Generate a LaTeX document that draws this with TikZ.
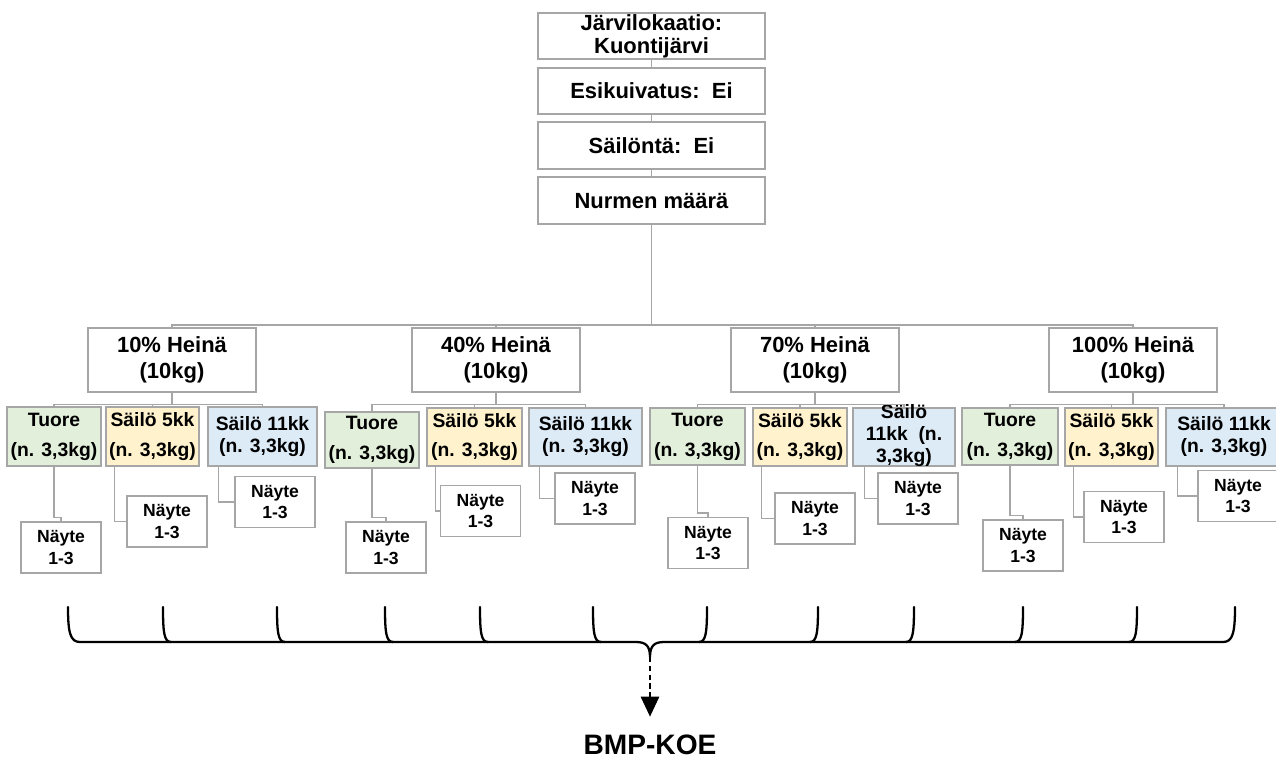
\documentclass[tikz,border=0pt]{standalone}
\usepackage{fontspec}
\setmainfont{Liberation Sans}
\usetikzlibrary{arrows.meta,calc}
\definecolor{tuorec}{HTML}{E2EFDA}
\definecolor{sailoa}{HTML}{FFF2CC}
\definecolor{sailob}{HTML}{DDEBF7}
\definecolor{viiva}{HTML}{A6A6A6}
\begin{document}
\begin{tikzpicture}[x=0.02cm, y=-0.02cm, >={Triangle[length=0.4cm,width=0.36cm]},
  laatikko/.style={draw=viiva, line width=0.6pt, inner sep=0pt, align=center},
  koko/.style 2 args={minimum width=#1*0.02cm, minimum height=#2*0.02cm},
  ylaosa/.style={laatikko, koko={227}{46}, font=\fontsize{12.5}{13}\selectfont\bfseries},
  heina/.style={laatikko, koko={168}{64}, font=\fontsize{12.5}{15}\selectfont\bfseries},
  tuore/.style={laatikko, fill=tuorec, font=\fontsize{11}{17}\selectfont\bfseries},
  sailo5/.style={laatikko, fill=sailoa, font=\fontsize{11}{17}\selectfont\bfseries},
  sailo11/.style={laatikko, fill=sailob, font=\fontsize{11}{12.5}\selectfont\bfseries},
  nayte/.style={laatikko, fill=white, koko={80}{51}, font=\fontsize{10}{12}\selectfont\bfseries},
  yhteys/.style={draw=viiva, line width=0.6pt},
  sulku/.style={line width=1.3pt, line cap=round}]
\useasboundingbox (0,0) rectangle (1276,762);
% ylaosan ketju
\node[ylaosa] (jarvi) at (651.5,36) {Järvilokaatio:\\Kuontijärvi};
\node[ylaosa] (esik) at (651.5,91) {Esikuivatus:\ \ Ei};
\node[ylaosa, koko={227}{47}] (sailonta) at (651.5,145.5) {Säilöntä:\ \ Ei};
\node[ylaosa, koko={227}{47}] (nurmi) at (651.5,200.5) {Nurmen määrä};
\draw[yhteys] (jarvi) -- (esik) (esik) -- (sailonta) (sailonta) -- (nurmi);
% heinan maarat
\foreach \nimi/\x/\pros in {h1/172/10, h2/496/40, h3/815/70, h4/1133/100}{
  \node[heina] (\nimi) at (\x,360) {\pros\% Heinä\\(10kg)};
  \draw[yhteys] (nurmi.south) -- (651.5,325) -| (\nimi.north);
}
% kasittelyt
\node[tuore, koko={94}{59}] (t1) at (54,436.5) {Tuore\\(n. 3,3kg)};
\node[sailo5, koko={93}{59}] (s51) at (152.5,436.5) {Säilö 5kk\\(n. 3,3kg)};
\node[sailo11, koko={109}{59}] (s111) at (262.5,436.5) {Säilö 11kk\\(n. 3,3kg)};
\node[tuore, koko={94}{56}] (t2) at (372,440) {Tuore\\(n. 3,3kg)};
\node[sailo5, koko={95}{58}] (s52) at (474.5,437) {Säilö 5kk\\(n. 3,3kg)};
\node[sailo11, koko={113}{58}] (s112) at (585.5,437) {Säilö 11kk\\(n. 3,3kg)};
\node[tuore, koko={95}{57}] (t3) at (697.5,436.5) {Tuore\\(n. 3,3kg)};
\node[sailo5, koko={94}{58}] (s53) at (800,437) {Säilö 5kk\\(n. 3,3kg)};
\node[sailo11, koko={102}{58}, text height=1.08cm, text depth=0.08cm] (s113) at (904,437) {Säilö\\11kk\ \ (n.\\3,3kg)};
\node[tuore, koko={96}{57}] (t4) at (1010,436.5) {Tuore\\(n. 3,3kg)};
\node[sailo5, koko={93}{58}] (s54) at (1111.5,437) {Säilö 5kk\\(n. 3,3kg)};
\node[sailo11, koko={116}{58}] (s114) at (1224,437) {Säilö 11kk\\(n. 3,3kg)};
\foreach \ylin/\lapsi in {h1/t1, h1/s51, h1/s111, h2/t2, h2/s52, h2/s112,
    h3/t3, h3/s53, h3/s113, h4/t4, h4/s54, h4/s114}
  \draw[yhteys] (\ylin.south) -- ++(0,12) -| (\lapsi.north);
% naytteet
\node[nayte] (n1) at (61,547.5) {Näyte\\1-3};
\node[nayte] (n2) at (167,521.5) {Näyte\\1-3};
\node[nayte] (n3) at (275,502) {Näyte\\1-3};
\node[nayte] (n4) at (386,547.5) {Näyte\\1-3};
\node[nayte] (n5) at (480.5,511) {Näyte\\1-3};
\node[nayte] (n6) at (595,498.5) {Näyte\\1-3};
\node[nayte] (n7) at (708,543) {Näyte\\1-3};
\node[nayte] (n8) at (815,518.5) {Näyte\\1-3};
\node[nayte] (n9) at (918,498.5) {Näyte\\1-3};
\node[nayte] (n10) at (1023,545.5) {Näyte\\1-3};
\node[nayte] (n11) at (1124,517) {Näyte\\1-3};
\node[nayte] (n12) at (1238,496) {Näyte\\1-3};
\foreach \ylin/\lapsi in {t1/n1, t2/n4, t3/n7, t4/n10}
  \draw[yhteys] (\ylin.south) |- ($(\lapsi.north)+(0,-4)$) -| (\lapsi.north);
\foreach \ylin/\lapsi/\siirto in {s51/n2/9, s111/n3/11, s52/n5/9, s112/n6/11,
    s53/n8/9, s113/n9/12, s54/n11/9, s114/n12/12}
  \draw[yhteys] ($(\ylin.south west)+(\siirto,0)$) |- (\lapsi.west);
% aaltosulku
\draw[sulku] (68,607) .. controls (68,632) and (70,642) .. (80,642) -- (636,642)
  .. controls (646,642) and (650,646) .. (650,657)
  .. controls (650,646) and (654,642) .. (664,642) -- (1223,642)
  .. controls (1233,642) and (1235,632) .. (1235,607);
\foreach \x in {163,277,385,480,593}
  \draw[sulku] (\x,607) .. controls (\x,632) and (\x+1,642) .. (\x+8,642);
\foreach \x in {707,818,914,1023,1137}
  \draw[sulku] (\x,607) .. controls (\x,632) and (\x-1,642) .. (\x-8,642);
\coordinate (karki) at (650,657);
\node[inner sep=0pt, font=\fontsize{16}{18}\selectfont\bfseries] (bmp) at (650,745) {BMP-KOE};
\draw[->, line width=1.5pt, dash pattern=on 3pt off 2pt, shorten >=0.36cm] (karki) -- (bmp);
\end{tikzpicture}
\end{document}
